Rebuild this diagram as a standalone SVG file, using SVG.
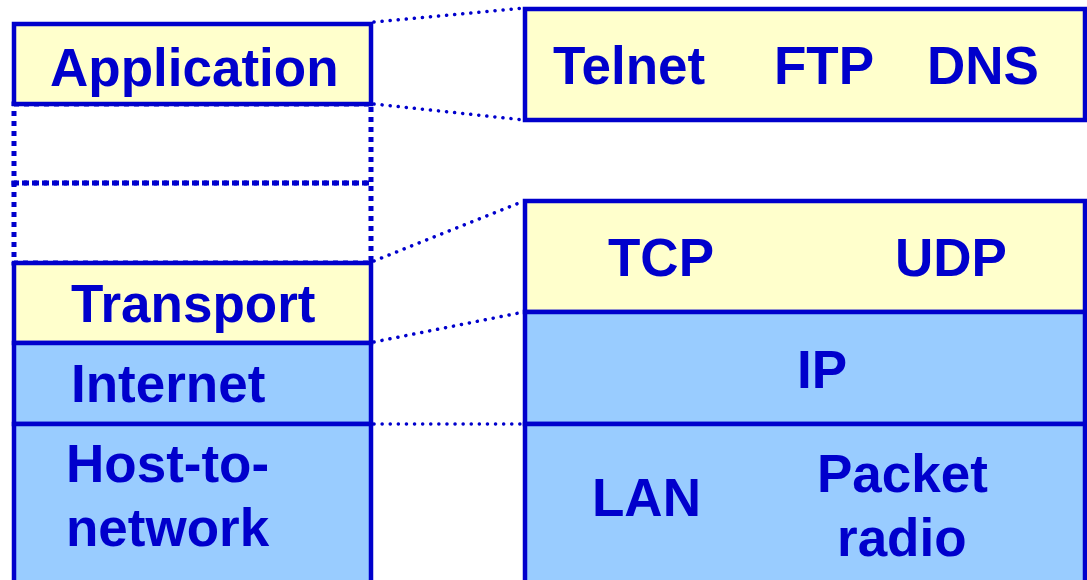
<svg xmlns="http://www.w3.org/2000/svg" width="1087" height="580" viewBox="0 0 1087 580">
<style>
.box{stroke:#0000CC;stroke-width:4.5}
.y{fill:#FFFFCC}
.b{fill:#99CCFF}
.dash{fill:none;stroke:#0000CC;stroke-width:5;stroke-dasharray:5 5}
.dot{fill:none;stroke:#0000CC;stroke-width:3.5;stroke-linecap:round;stroke-dasharray:0.1 8}
text{font-family:"Liberation Sans",Arial,sans-serif;font-weight:bold;font-size:53px;fill:#0000CC}
</style>
<rect width="1087" height="580" fill="#FFFFFF"/>
<g id="connectors">
<line class="dot" x1="374" y1="22" x2="524" y2="8"/>
<line class="dot" x1="374" y1="104" x2="524" y2="120"/>
<line class="dot" x1="374" y1="261" x2="524" y2="201"/>
<line class="dot" x1="374" y1="342" x2="524" y2="312"/>
<line class="dot" x1="374" y1="424" x2="524" y2="424"/>
</g>
<g id="empty1"><rect class="dash" x="14" y="104" width="357" height="79"/></g>
<g id="empty2"><rect class="dash" x="14" y="183" width="357" height="80"/></g>
<g id="application"><rect class="box y" x="14" y="24" width="357" height="80"/><text x="50" y="86">Application</text></g>
<g id="transport"><rect class="box y" x="14" y="263" width="357" height="80"/><text x="71" y="322">Transport</text></g>
<g id="internet"><rect class="box b" x="14" y="343" width="357" height="81"/><text x="71" y="402">Internet</text></g>
<g id="host"><rect class="box b" x="14" y="424" width="357" height="200"/><text x="66" y="482">Host-to-</text><text x="66" y="546">network</text></g>
<g id="apps"><rect class="box y" x="525" y="9" width="560" height="111"/><text x="553" y="84">Telnet</text><text x="774" y="84">FTP</text><text x="927" y="84">DNS</text></g>
<g id="tcpudp"><rect class="box y" x="525" y="201" width="560" height="111"/><text x="608" y="276">TCP</text><text x="895" y="276">UDP</text></g>
<g id="ip"><rect class="box b" x="525" y="312" width="560" height="112"/><text x="797" y="388">IP</text></g>
<g id="lan"><rect class="box b" x="525" y="424" width="560" height="200"/><text x="592" y="516">LAN</text><text x="817" y="492">Packet</text><text x="837" y="556">radio</text></g>
</svg>
